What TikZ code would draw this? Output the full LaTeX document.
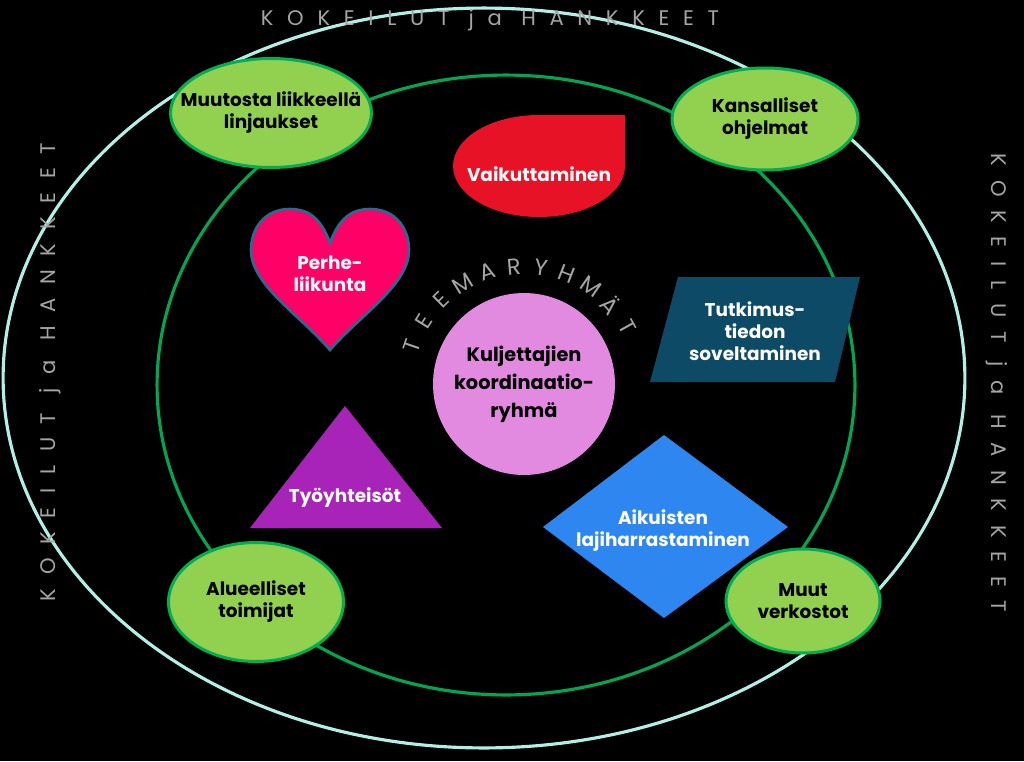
\documentclass[tikz,border=0pt]{standalone}
\usepackage{fontspec}
\setmainfont{Poppins}
\newfontfamily\spacedfont[LetterSpace=65]{Poppins}
\usetikzlibrary{shapes.geometric, positioning, calc}
\definecolor{cring}{RGB}{178,240,230}
\definecolor{cinner}{RGB}{0,166,80}
\definecolor{cleaf}{RGB}{146,208,80}
\definecolor{cleafline}{RGB}{0,176,80}
\definecolor{cred}{RGB}{232,18,38}
\definecolor{cheart}{RGB}{255,0,102}
\definecolor{cheartline}{RGB}{35,110,145}
\definecolor{cteal}{RGB}{12,74,102}
\definecolor{cviolet}{RGB}{168,36,184}
\definecolor{cblue}{RGB}{46,134,240}
\definecolor{corchid}{RGB}{226,138,224}
\definecolor{cgrey}{RGB}{165,165,165}

\begin{document}
\begin{tikzpicture}[
    x=0.02cm, y=-0.02cm,
    ring/.style={ellipse, draw=#1, line width=1.8pt, inner sep=0pt},
    leaf/.style={ellipse, draw=cleafline, fill=cleaf, line width=1.7pt, inner sep=0pt},
    leaftext/.style={align=center, text=black, font=\bfseries\fontsize{10.5}{12.5}\selectfont},
    shapelbl/.style={align=center, text=white, font=\bfseries\fontsize{10.5}{12.5}\selectfont},
    side/.style={text=cgrey, font=\spacedfont\fontsize{12}{14}\selectfont},
    arcch/.style={text=cgrey, inner sep=0pt, font=\fontsize{13}{15}\selectfont}
]

\fill[black] (0,0) rectangle (1024,761);

\node[ring=cring, minimum width=19.24cm, minimum height=14.8cm] (outer) at (484,378) {};
\node[ring=cinner, minimum width=13.96cm, minimum height=12.4cm] (inner) at (506,385) {};

\node[side] (kotop) at (490,20) {KOKEILUT ja HANKKEET};
\node[side, rotate=90] (koleft) at (50,372) {KOKEILUT ja HANKKEET};
\node[side, rotate=-90] (koright) at (997,383) {KOKEILUT ja HANKKEET};

\node[leaf, minimum width=4.02cm, minimum height=2.18cm, label={[leaftext]center:Muutosta liikkeellä\\linjaukset}] (muutos) at (271,113) {};
\node[leaf, minimum width=3.72cm, minimum height=2.04cm, label={[leaftext]center:Kansalliset\\ohjelmat}] (kans) at (765,119) {};
\node[leaf, minimum width=3.5cm, minimum height=2.38cm, label={[leaftext]center:Alueelliset\\toimijat}] (alue) at (256,602) {};
\node[leaf, minimum width=3.08cm, minimum height=2.08cm, label={[leaftext]center:Muut\\verkostot}] (muut) at (803,601) {};

% teemaryhmat
\fill[cred] (625,115) -- (625,166) arc[start angle=0, end angle=-270, x radius=1.72cm, y radius=1.02cm] -- cycle;
\node[shapelbl] (vaik) at (539,174) {Vaikuttaminen};

\filldraw[fill=cheart, draw=cheartline, line width=1.5pt] (330,243)
  .. controls (340,215) and (355,209) .. (370,209)
  .. controls (395,209) and (409,228) .. (409,250)
  .. controls (409,285) and (360,315) .. (330,350)
  .. controls (300,315) and (251,285) .. (251,250)
  .. controls (251,228) and (265,209) .. (290,209)
  .. controls (305,209) and (320,215) .. (330,243) -- cycle;
\node[shapelbl] (perhe) at (330,274) {Perhe-\\liikunta};

\fill[cteal] (678,277) -- (860,277) -- (835,382) -- (650,382) -- cycle;
\node[shapelbl] (tutk) at (755,331) {Tutkimus-\\tiedon\\soveltaminen};

\fill[cviolet] (345,406) -- (442,528) -- (250,528) -- cycle;
\node[shapelbl] (tyo) at (345,498) {Työyhteisöt};

\fill[cblue] (664,435) -- (788,527) -- (664,618) -- (543,527) -- cycle;
\node[shapelbl] (aik) at (663,531) {Aikuisten\\lajiharrastaminen};

\node[circle, fill=corchid, minimum size=3.64cm, inner sep=0pt, align=center, font=\bfseries\fontsize{11}{16}\selectfont] (koord) at (524,384) {Kuljettajien\\koordinaatio-\\ryhmä};

\foreach \ch [count=\i] in {T,E,E,M,A,R,Y,H,M,Ä,T}
  \node[arcch, rotate={161-(\i-1)*13.2-90}] (tm\i) at ([shift={({161-(\i-1)*13.2}:2.36cm)}]koord.center) {\ch};

\end{tikzpicture}
\end{document}
